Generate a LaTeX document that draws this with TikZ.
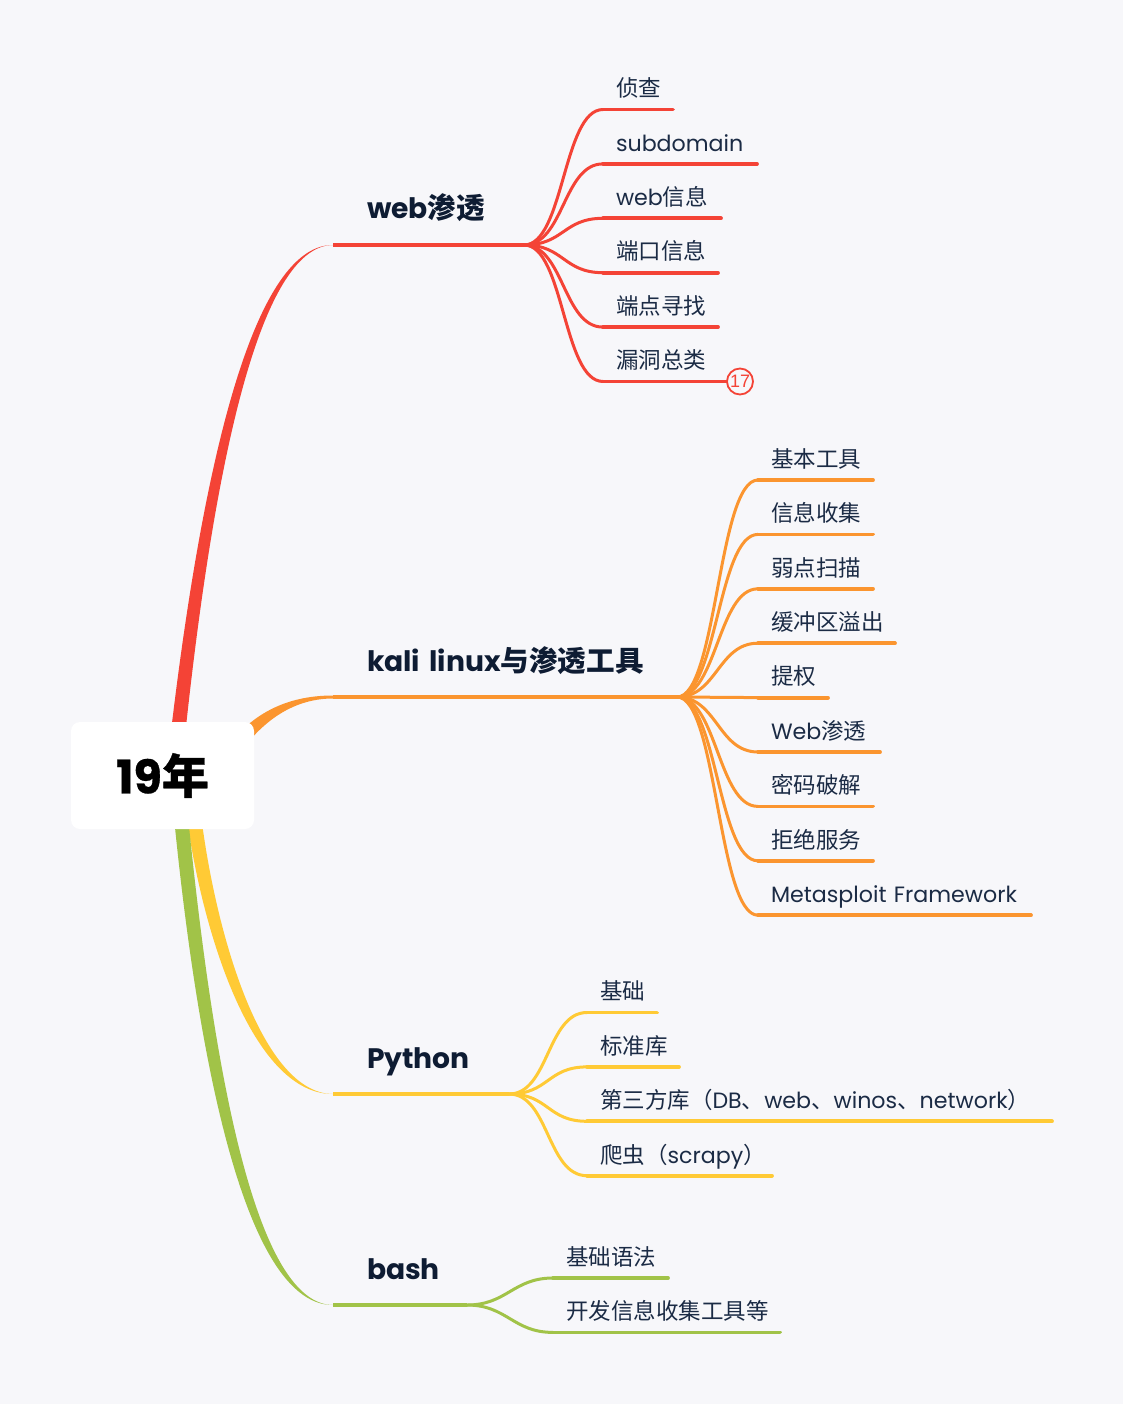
\documentclass[tikz,border=0pt]{standalone}
\usepackage{fontspec}
\setmainfont[Scale=0.985]{Poppins}
\newfontfamily\cjk{Noto Sans CJK SC}
\newfontfamily\badgefont{Liberation Sans}
\newfontfamily\rootfont[Scale=0.985,BoldFeatures={FakeBold=0.7}]{Poppins}
\newfontfamily\rootcjk[BoldFeatures={FakeBold=0.7}]{Noto Sans CJK SC}
\newcommand{\cn}[1]{{\cjk #1}}
\usepackage{xcolor}
\usetikzlibrary{positioning,calc}
\definecolor{pagebg}{HTML}{F7F7FA}
\definecolor{ink}{HTML}{1B2B45}
\definecolor{topicink}{HTML}{0E1C33}
\definecolor{webred}{HTML}{F44336}
\definecolor{kaliorange}{HTML}{FB952F}
\definecolor{pyyellow}{HTML}{FFCA35}
\definecolor{bashgreen}{HTML}{A1C348}

\begin{document}
\begin{tikzpicture}[
  x=1pt, y=-1pt,
  rule/.style={line width=3.8pt, line cap=round},
  flow/.style={line width=3pt, to path={.. controls +(40,0) and +(-40,0) .. (\tikztotarget)}},
  leaf/.style={text=ink, font=\fontsize{22.5}{24}\selectfont, inner sep=0pt, outer sep=0pt, anchor=south west, align=left,
    text width=#1, text height=41.7pt, text depth=12.7pt,
    execute at begin node={\hspace*{13pt}},
    append after command={(\tikzlastnode.south west) edge[rule] (\tikzlastnode.south east)}},
  under/.style={below=0pt of #1.south west, anchor=north west},
  topic/.style={text=topicink, font=\fontsize{28.6}{30}\selectfont\bfseries, inner sep=0pt, outer sep=0pt, anchor=south west, align=left,
    text width=#1, text height=30pt, text depth=26pt,
    execute at begin node={\hspace*{34pt}},
    append after command={(\tikzlastnode.south west) edge[rule, line cap=butt, line width=3.5pt] (\tikzlastnode.south east)}},
  badge/.style={circle, draw=webred, line width=1.8pt, fill=pagebg, text=webred, minimum size=26pt, inner sep=0pt, outer sep=0pt, font=\fontsize{18}{18}\selectfont\badgefont},
  rootbox/.style={rectangle, rounded corners=9pt, fill=white, text=black, minimum width=183pt, minimum height=107pt, font=\fontsize{47}{48}\selectfont\bfseries}
]
\fill[pagebg] (0,0) rectangle (1123,1404);

% web branch
\begin{scope}[color=webred]
\node[topic=191pt] (web) at (333,245) {web\cn{渗透}};
\node[leaf=70pt] (recon) at (603,109.5) {\cn{侦查}};
\node[leaf=154pt, under=recon] (subdomain) {subdomain};
\node[leaf=118pt, under=subdomain] (webinfo) {web\cn{信息}};
\node[leaf=115pt, under=webinfo] (portinfo) {\cn{端口信息}};
\node[leaf=115pt, under=portinfo] (endpoint) {\cn{端点寻找}};
\node[leaf=124pt, under=endpoint] (vulns) {\cn{漏洞总类}};
\node[badge, anchor=west] (vulncount) at (vulns.south east) {17};
\draw[flow] (web.south east) to (recon.south west);
\draw[flow] (web.south east) to (subdomain.south west);
\draw[flow] (web.south east) to (webinfo.south west);
\draw[flow] (web.south east) to (portinfo.south west);
\draw[flow] (web.south east) to (endpoint.south west);
\draw[flow] (web.south east) to (vulns.south west);
\end{scope}

% kali branch
\begin{scope}[color=kaliorange]
\node[topic=344pt] (kali) at (333,697) {kali linux\cn{与渗透工具}};
\node[leaf=115pt] (basetools) at (758,480) {\cn{基本工具}};
\node[leaf=115pt, under=basetools] (infogather) {\cn{信息收集}};
\node[leaf=115pt, under=infogather] (weakscan) {\cn{弱点扫描}};
\node[leaf=137pt, under=weakscan] (overflow) {\cn{缓冲区溢出}};
\node[leaf=70pt, under=overflow] (privesc) {\cn{提权}};
\node[leaf=122pt, under=privesc] (webpen) {Web\cn{渗透}};
\node[leaf=115pt, under=webpen] (crack) {\cn{密码破解}};
\node[leaf=115pt, under=crack] (dos) {\cn{拒绝服务}};
\node[leaf=273pt, under=dos] (msf) {Metasploit Framework};
\draw[flow] (kali.south east) to (basetools.south west);
\draw[flow] (kali.south east) to (infogather.south west);
\draw[flow] (kali.south east) to (weakscan.south west);
\draw[flow] (kali.south east) to (overflow.south west);
\draw[flow] (kali.south east) to (privesc.south west);
\draw[flow] (kali.south east) to (webpen.south west);
\draw[flow] (kali.south east) to (crack.south west);
\draw[flow] (kali.south east) to (dos.south west);
\draw[flow] (kali.south east) to (msf.south west);
\end{scope}

% python branch
\begin{scope}[color=pyyellow]
\node[topic=176pt] (python) at (333,1094) {Python};
\node[leaf=70pt] (pybasic) at (587,1012.5) {\cn{基础}};
\node[leaf=92pt, under=pybasic] (stdlib) {\cn{标准库}};
\node[leaf=465pt, under=stdlib] (thirdparty) {\cn{第三方库（}DB\cn{、}web\cn{、}winos\cn{、}network\cn{）}};
\node[leaf=185pt, under=thirdparty] (crawler) {\cn{爬虫（}scrapy\cn{）}};
\draw[flow] (python.south east) to (pybasic.south west);
\draw[flow] (python.south east) to (stdlib.south west);
\draw[flow] (python.south east) to (thirdparty.south west);
\draw[flow] (python.south east) to (crawler.south west);
\end{scope}

% bash branch
\begin{scope}[color=bashgreen]
\node[topic=134pt] (bash) at (333,1305) {bash};
\node[leaf=115pt] (syntax) at (553,1278) {\cn{基础语法}};
\node[leaf=227pt, under=syntax] (devtools) {\cn{开发信息收集工具等}};
\draw[flow] (bash.south east) to (syntax.south west);
\draw[flow] (bash.south east) to (devtools.south west);
\end{scope}

% tapered limbs, covered by the root box
\fill[webred] (166,775) .. controls (205,420) and (262,244.6) .. (web.south west)
  .. controls (266,245.4) and (215,430) .. (181,775) -- cycle;
\fill[kaliorange] (225,750) .. controls (250,715) and (285,695.5) .. ($(kali.south west)+(0,-1.5)$)
  -- ($(kali.south west)+(0,1.5)$) .. controls (290,698.5) and (258,725) .. (235,760) -- cycle;
\fill[pyyellow] (182,775) .. controls (192,900) and (245,1094.4) .. (python.south west)
  .. controls (255,1093.6) and (206,900) .. (197,775) -- cycle;
\fill[bashgreen] (170,775) .. controls (190,1000) and (235,1305.4) .. (bash.south west)
  .. controls (245,1304.6) and (205,1000) .. (184,775) -- cycle;

% root
\node[rootbox] (root) at (162.5,775.5) {{\rootfont 19}{\rootcjk 年}};
\end{tikzpicture}
\end{document}
